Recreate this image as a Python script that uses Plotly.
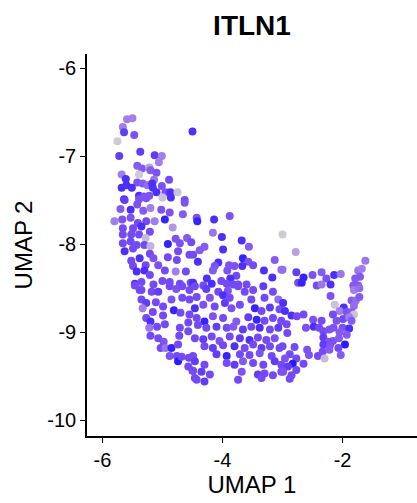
import plotly.graph_objects as go

# (UMAP_1, UMAP_2, ITLN1 scaled expression 0..1)
cells_top_left = [
    (-5.59,-6.58,0.5),(-5.50,-6.57,0.5),(-5.66,-6.67,0.5),(-5.64,-6.73,0.85),(-5.47,-6.76,0.75),(-5.75,-6.83,0.05),
    (-4.50,-6.72,0.9),(-5.37,-6.95,0.85),(-5.72,-7.00,0.85),(-5.13,-6.99,0.85),(-5.01,-7.00,0.5),(-5.06,-7.07,0.5),
    (-5.42,-7.11,0.7),(-5.34,-7.14,0.7),(-5.22,-7.13,0.3),(-5.20,-7.16,0.7),(-5.10,-7.19,0.75),(-5.68,-7.21,0.5),
    (-5.39,-7.21,0.05),(-5.61,-7.26,0.9),(-4.89,-7.27,0.8),(-5.14,-7.27,0.55),(-5.42,-7.30,0.75),(-5.33,-7.31,0.7),
    (-5.25,-7.33,0.6),(-5.17,-7.31,0.9),(-5.01,-7.34,0.75),(-5.68,-7.36,0.9),(-5.60,-7.33,0.9),(-5.51,-7.36,0.9),
    (-5.16,-7.36,0.9),(-5.10,-7.41,0.9),(-4.95,-7.41,0.75),(-4.87,-7.41,0.9),(-4.75,-7.41,0.1),(-5.39,-7.45,0.9),
    (-5.31,-7.46,0.75),(-5.22,-7.45,0.75),(-5.00,-7.47,0.1),(-4.86,-7.47,0.9),(-5.64,-7.49,0.9),(-4.63,-7.50,0.8),
]
cells_mid_left = [
    (-5.63,-7.50,0.85),(-5.39,-7.49,0.75),(-5.27,-7.48,0.75),(-5.70,-7.60,0.7),(-5.53,-7.61,0.9),(-5.42,-7.55,0.75),
    (-5.32,-7.62,0.7),(-5.20,-7.59,0.5),(-5.02,-7.61,0.75),(-4.88,-7.64,0.75),(-4.63,-7.53,0.75),(-4.66,-7.66,0.7),
    (-5.80,-7.74,0.5),(-5.67,-7.72,0.75),(-5.53,-7.70,0.75),(-5.41,-7.76,0.8),(-5.27,-7.74,0.8),(-5.13,-7.74,0.5),
    (-4.96,-7.72,0.95),(-4.83,-7.81,0.35),(-5.66,-7.82,0.8),(-5.49,-7.82,0.8),(-5.35,-7.80,0.9),(-5.21,-7.86,0.8),
    (-5.66,-7.89,0.8),(-5.52,-7.89,0.8),(-5.39,-7.89,0.8),(-5.28,-7.93,0.15),(-4.78,-7.94,0.75),(-4.59,-7.93,0.7),
    (-4.91,-8.00,0.95),(-4.71,-7.99,0.75),(-5.66,-7.99,0.8),(-5.53,-7.97,0.8),(-5.43,-8.01,0.8),(-5.30,-8.01,0.8),
    (-5.20,-8.02,0.2),(-5.63,-8.08,0.9),(-5.49,-8.05,0.8),(-5.21,-8.11,0.8),(-5.15,-8.16,0.75),(-4.74,-8.08,0.8),
    (-4.91,-8.15,0.8),(-4.76,-8.18,0.8),(-4.55,-8.12,0.8),(-5.52,-8.19,0.8),(-5.38,-8.16,0.9),(-5.28,-8.24,0.8),
    (-5.49,-8.25,0.8),(-5.07,-8.24,0.75),(-5.43,-8.31,0.9),(-5.30,-8.30,0.9),(-5.21,-8.35,0.8),(-4.96,-8.30,0.8),
    (-4.78,-8.31,0.5),(-4.61,-8.31,0.8),(-5.46,-8.45,0.9),(-5.35,-8.43,0.8),(-5.15,-8.46,0.8),(-5.00,-8.42,0.8),
    (-4.88,-8.43,0.8),(-4.71,-8.45,0.8),(-4.53,-8.44,0.8),(-5.35,-8.52,0.8),
]
cells_mid_centre = [
    (-4.43,-7.70,0.75),(-4.42,-7.74,0.95),(-4.14,-7.72,0.9),(-3.88,-7.68,0.75),(-4.16,-7.87,0.55),(-4.01,-7.92,0.9),
    (-3.68,-7.96,0.9),(-3.56,-8.03,0.7),(-3.00,-7.89,0.05),(-4.52,-7.98,0.8),(-4.30,-8.03,0.7),(-4.38,-8.07,0.7),
    (-3.99,-8.06,0.9),(-3.66,-8.16,0.95),(-3.57,-8.20,0.75),(-3.49,-8.24,0.8),(-4.49,-8.12,0.8),(-4.41,-8.20,0.9),
    (-4.07,-8.21,0.9),(-4.13,-8.25,0.75),(-4.16,-8.30,0.7),(-3.89,-8.24,0.75),(-3.80,-8.25,0.75),(-3.67,-8.25,0.9),
    (-3.92,-8.30,0.75),(-3.77,-8.36,0.8),(-3.87,-8.39,0.9),(-3.31,-8.30,0.9),(-3.13,-8.18,0.7),(-3.17,-8.38,0.9),
    (-3.02,-8.29,0.55),(-4.49,-8.44,0.9),(-4.32,-8.47,0.8),(-4.26,-8.39,0.9),(-4.18,-8.45,0.9),(-4.02,-8.42,0.8),
    (-3.93,-8.45,0.8),(-3.82,-8.46,0.8),(-3.74,-8.46,0.8),(-3.60,-8.46,0.8),
]
cells_mid_right = [
    (-2.78,-8.09,0.3),(-1.62,-8.19,0.55),(-3.00,-8.29,0.6),(-2.77,-8.32,0.85),(-2.65,-8.38,0.95),(-2.50,-8.35,0.75),
    (-2.35,-8.32,0.7),(-2.27,-8.39,0.75),(-2.14,-8.35,0.9),(-2.03,-8.34,0.55),(-1.74,-8.30,0.55),(-1.68,-8.28,0.5),
    (-1.71,-8.37,0.7),(-1.79,-8.39,0.7),(-2.74,-8.44,0.8),(-2.68,-8.44,0.95),(-2.43,-8.47,0.8),(-2.35,-8.46,0.55),
    (-2.20,-8.46,0.9),(-1.82,-8.47,0.7),(-1.74,-8.47,0.7),
]
cells_low_left = [
    (-5.46,-8.47,0.8),(-5.38,-8.52,0.8),(-5.18,-8.54,0.8),(-5.07,-8.54,0.85),(-4.88,-8.48,0.8),(-4.77,-8.51,0.75),
    (-4.67,-8.48,0.8),(-4.55,-8.52,0.8),(-5.35,-8.63,0.8),(-5.27,-8.67,0.85),(-5.33,-8.73,0.5),(-5.11,-8.66,0.8),
    (-4.99,-8.71,0.8),(-4.85,-8.63,0.75),(-4.67,-8.61,0.8),(-4.55,-8.63,0.8),(-4.81,-8.75,0.95),(-5.16,-8.77,0.8),
    (-4.99,-8.81,0.8),(-4.70,-8.78,0.8),(-4.55,-8.80,0.8),(-5.27,-8.84,0.8),(-5.20,-8.88,0.9),(-5.22,-8.95,0.55),
    (-5.09,-8.94,0.8),(-4.96,-8.91,0.8),(-4.71,-8.95,0.8),(-4.57,-8.89,0.8),(-4.57,-8.99,0.8),(-5.20,-9.04,0.8),
    (-5.07,-9.07,0.8),(-4.72,-9.04,0.8),(-4.98,-9.11,0.75),(-5.03,-9.18,0.8),(-4.95,-9.18,0.55),(-4.85,-9.18,0.95),
    (-4.74,-9.14,0.8),(-4.88,-9.27,0.75),(-4.76,-9.27,0.8),(-4.74,-9.33,0.97),(-4.68,-9.28,0.8),(-4.56,-9.29,0.8),
    (-4.57,-9.39,0.8),(-4.50,-9.44,0.8),(-4.46,-9.52,0.8),
]
cells_low_centre = [
    (-4.46,-8.48,0.8),(-4.27,-8.51,0.85),(-4.07,-8.54,0.8),(-3.91,-8.53,0.75),(-3.74,-8.48,0.8),(-3.63,-8.54,0.8),
    (-3.49,-8.52,0.8),(-3.32,-8.48,0.85),(-3.16,-8.54,0.8),
    (-4.43,-8.60,0.8),(-4.21,-8.61,0.75),(-3.99,-8.58,0.9),(-3.88,-8.61,0.8),(-3.52,-8.63,0.8),(-3.30,-8.61,0.8),(-3.07,-8.63,0.6),
    (-4.46,-8.73,0.9),(-4.32,-8.69,0.75),(-4.13,-8.71,0.8),(-3.96,-8.67,0.85),(-3.85,-8.73,0.75),(-3.71,-8.69,0.8),
    (-3.46,-8.73,0.95),(-3.35,-8.76,0.8),(-3.21,-8.72,0.85),(-3.05,-8.74,0.8),
    (-4.43,-8.84,0.8),(-4.30,-8.88,0.95),(-4.16,-8.82,0.75),(-3.99,-8.84,0.8),(-3.77,-8.88,0.7),(-3.57,-8.83,0.85),
    (-3.43,-8.86,0.95),(-3.30,-8.87,0.8),(-3.16,-8.84,0.8),(-3.02,-8.88,0.8),
    (-4.41,-8.92,0.8),(-4.27,-8.95,0.8),(-4.10,-8.94,0.85),(-3.93,-8.95,0.8),(-3.82,-8.94,0.7),(-3.66,-8.97,0.85),
    (-3.52,-8.94,0.8),(-3.38,-8.95,0.9),(-3.21,-8.97,0.8),(-3.07,-8.95,0.85),
    (-4.46,-9.07,0.8),(-4.32,-9.08,0.85),(-4.18,-9.05,0.8),(-4.05,-9.10,0.75),(-3.88,-9.05,0.8),(-3.71,-9.07,0.85),
    (-3.55,-9.09,0.9),(-3.41,-9.06,0.8),(-3.27,-9.09,0.8),(-3.13,-9.07,0.75),
    (-4.30,-9.16,0.8),(-4.16,-9.18,0.85),(-3.99,-9.15,0.8),(-3.80,-9.16,0.9),(-3.63,-9.18,0.8),(-3.49,-9.14,0.8),
    (-3.35,-9.18,0.85),(-3.21,-9.16,0.8),(-3.05,-9.18,0.8),
    (-4.49,-9.27,0.8),(-4.10,-9.25,0.85),(-3.93,-9.27,0.95),(-3.71,-9.25,0.8),(-3.55,-9.26,0.8),(-3.38,-9.24,0.75),(-3.18,-9.27,0.8),
    (-4.46,-9.33,0.85),(-4.30,-9.37,0.8),(-3.93,-9.35,0.8),(-3.80,-9.37,0.85),(-3.66,-9.33,0.7),(-3.49,-9.35,0.8),
    (-3.32,-9.37,0.8),(-3.13,-9.33,0.85),(-3.02,-9.37,0.8),
    (-4.49,-9.44,0.8),(-4.35,-9.45,0.85),(-4.21,-9.48,0.8),(-3.68,-9.45,0.75),(-3.41,-9.48,0.85),(-3.30,-9.47,0.8),
    (-3.16,-9.49,0.8),(-3.02,-9.45,0.8),
    (-4.43,-9.54,0.8),(-4.30,-9.56,0.85),(-3.74,-9.54,0.8),(-3.35,-9.52,0.8),
]
cells_low_right = [
    (-1.81,-8.52,0.5),(-1.72,-8.50,0.6),(-2.99,-8.67,0.9),(-2.96,-8.76,0.9),(-2.20,-8.59,0.75),(-2.13,-8.69,0.1),
    (-1.98,-8.72,0.9),(-1.85,-8.64,0.7),(-1.78,-8.64,0.6),(-1.72,-8.60,0.7),(-1.81,-8.70,0.6),(-2.05,-8.76,0.5),
    (-1.93,-8.77,0.75),(-1.85,-8.77,0.7),(-1.81,-8.80,0.1),(-2.85,-8.81,0.9),(-2.76,-8.82,0.8),(-2.65,-8.80,0.8),
    (-2.49,-8.86,0.75),(-2.35,-8.87,0.8),(-2.16,-8.80,0.8),(-2.10,-8.87,0.75),(-1.99,-8.85,0.8),(-1.89,-8.83,0.5),
    (-1.85,-8.87,0.7),(-3.02,-8.87,0.8),(-2.93,-8.91,0.8),(-2.61,-8.95,0.75),(-2.48,-8.94,0.9),(-2.39,-8.95,0.8),
    (-2.32,-8.99,0.8),(-2.22,-8.97,0.75),(-2.15,-8.95,0.75),(-2.00,-8.95,0.75),(-1.89,-8.96,0.9),(-2.05,-9.00,0.7),
    (-1.93,-9.03,0.7),(-2.92,-9.01,0.8),(-2.32,-9.06,0.85),(-2.24,-9.11,0.75),(-2.16,-9.10,0.75),(-2.06,-9.07,0.7),
    (-1.96,-9.14,0.98),(-3.00,-9.16,0.8),(-2.80,-9.17,0.8),(-2.32,-9.14,0.85),(-2.21,-9.15,0.75),(-2.07,-9.18,0.8),
    (-2.59,-9.20,0.75),(-2.33,-9.22,0.8),(-2.22,-9.20,0.7),(-2.88,-9.25,0.8),(-2.56,-9.26,0.75),(-2.41,-9.27,0.8),
    (-2.30,-9.30,0.15),(-2.03,-9.26,0.7),(-2.96,-9.30,0.75),(-2.77,-9.30,0.8),(-2.83,-9.36,0.98),(-2.91,-9.39,0.85),
    (-2.65,-9.36,0.8),(-2.77,-9.43,0.8),(-2.99,-9.45,0.75),(-2.85,-9.49,0.8),(-2.88,-9.53,0.8),
]

x_tick_vals = [-6, -4, -2]
x_tick_text = ["-6", "-4", "-2"]
y_tick_vals = [-10, -9, -8, -7, -6]
y_tick_text = ["-10", "-9", "-8", "-7", "-6"]

cells = (cells_top_left + cells_mid_left + cells_mid_centre + cells_mid_right
         + cells_low_left + cells_low_centre + cells_low_right)
umap1 = [c[0] for c in cells]
umap2 = [c[1] for c in cells]
expr = [c[2] for c in cells]

FONT = "Liberation Sans, Arial, sans-serif"
scale = [[0, "#D3D3D3"], [0.25, "rgb(187,165,224)"], [0.5, "rgb(157,119,236)"],
         [0.75, "rgb(114,72,246)"], [1, "#0000FF"]]

fig = go.Figure(go.Scatter(
    x=umap1, y=umap2, mode="markers",
    marker=dict(size=8, color=expr, colorscale=scale, cmin=0, cmax=1.08,
                showscale=False, line=dict(width=0)),
    hoverinfo="skip",
))

fig.update_layout(
    width=417, height=503,
    margin=dict(l=87, r=0, t=54, b=67),
    plot_bgcolor="white", paper_bgcolor="white",
    showlegend=False,
    font=dict(family=FONT, color="black"),
    title=dict(text="<b>ITLN1</b>", x=252/417, xanchor="center", y=1-25.5/503, yanchor="middle",
               font=dict(size=28, family=FONT, color="black")),
)
fig.update_xaxes(
    range=[-6.257, -0.76], tickvals=x_tick_vals, ticktext=x_tick_text,
    ticks="outside", ticklen=5, tickwidth=1.2, tickcolor="black",
    showline=True, linecolor="black", linewidth=1.6, showgrid=False, zeroline=False,
    tickfont=dict(size=20, family=FONT, color="black"),
    title=dict(text="UMAP 1", font=dict(size=24, family=FONT, color="black"), standoff=6),
)
fig.update_yaxes(
    range=[-10.18, -5.84], tickvals=y_tick_vals, ticktext=y_tick_text,
    ticks="outside", ticklen=5, tickwidth=1.2, tickcolor="black",
    showline=True, linecolor="black", linewidth=1.6, showgrid=False, zeroline=False,
    tickfont=dict(size=20, family=FONT, color="black"),
    title=dict(text="UMAP 2", font=dict(size=24, family=FONT, color="black"), standoff=8),
)

fig.write_html("out.html")
